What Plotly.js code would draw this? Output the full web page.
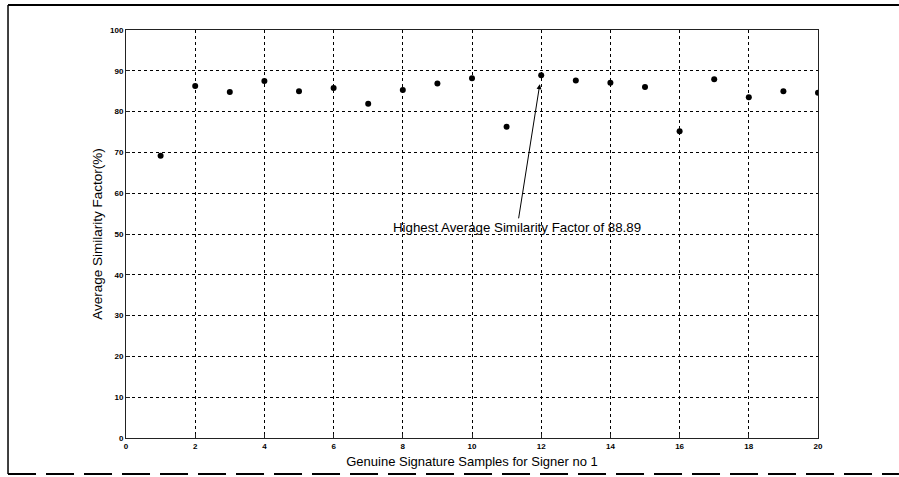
<!DOCTYPE html>
<html>
<head>
<meta charset="utf-8">
<script src="https://cdn.plot.ly/plotly-3.0.1.min.js"></script>
<style>html,body{margin:0;padding:0;background:#fff;}#chart{width:899px;height:477px;}</style>
</head>
<body>
<div id="chart"></div>
<script>
const samples = [1,2,3,4,5,6,7,8,9,10,11,12,13,14,15,16,17,18,19,20];
const similarity = [69.2,86.3,84.8,87.5,85.0,85.8,81.9,85.3,86.9,88.2,76.3,88.89,87.6,87.1,86.0,75.2,87.9,83.5,85.0,84.6];
const xTicks = [0,2,4,6,8,10,12,14,16,18,20];
const yTicks = [0,10,20,30,40,50,60,70,80,90,100];
const annotationText = 'Highest Average Similarity Factor of 88.89';
const xTitle = 'Genuine Signature Samples for Signer no 1';
const yTitle = 'Average Similarity Factor(%)';

const maxIdx = similarity.indexOf(Math.max(...similarity));

const trace = {
  x: samples, y: similarity, type: 'scatter', mode: 'markers',
  marker: {color: '#000', size: 6}, hoverinfo: 'skip'
};

const axisCommon = {
  showline: true, linecolor: '#222', linewidth: 1, mirror: true,
  showgrid: true, gridcolor: '#000', griddash: 'dot', gridwidth: 1,
  ticks: 'inside', ticklen: 4, tickcolor: '#222',
  zeroline: false, tickfont: {family: 'Arial, Liberation Sans', size: 8, color: '#000', weight: 'bold'}
};

const layout = {
  width: 899, height: 477,
  margin: {l: 126, r: 81, t: 30, b: 39},
  paper_bgcolor: '#fff', plot_bgcolor: '#fff',
  showlegend: false,
  xaxis: Object.assign({}, axisCommon, {
    range: [0, 20], tickvals: xTicks, ticktext: xTicks.map(String),
    title: {text: xTitle, font: {family: 'Arial, Liberation Sans', size: 13, color: '#000'}, standoff: 7}
  }),
  yaxis: Object.assign({}, axisCommon, {
    range: [0, 100], tickvals: yTicks, ticktext: yTicks.map(String),
    title: {text: yTitle, font: {family: 'Arial, Liberation Sans', size: 13.5, color: '#000'}, standoff: 4}
  }),
  annotations: [{
    x: samples[maxIdx], y: similarity[maxIdx], xref: 'x', yref: 'y',
    text: annotationText, showarrow: true, arrowhead: 2, arrowsize: 1, arrowwidth: 1,
    arrowcolor: '#000', ax: -24, ay: 152, standoff: 9,
    font: {family: 'Arial, Liberation Sans', size: 13.3, color: '#000'}
  }],
  shapes: [
    {type: 'line', xref: 'paper', yref: 'paper', x0: -0.1705, x1: 1.117, y0: 1.0613, y1: 1.0613, line: {color: '#000', width: 2}},
    {type: 'line', xref: 'paper', yref: 'paper', x0: -0.1705, x1: -0.1705, y0: 1.0613, y1: -0.0882, line: {color: '#000', width: 1.5}},
    {type: 'line', xref: 'paper', yref: 'paper', x0: -0.1705, x1: 1.117, y0: -0.0882, y1: -0.0882, line: {color: '#000', width: 2, dash: '28px,10px'}}
  ]
};

Plotly.newPlot('chart', [trace], layout, {displayModeBar: false, staticPlot: true});
</script>
</body>
</html>
